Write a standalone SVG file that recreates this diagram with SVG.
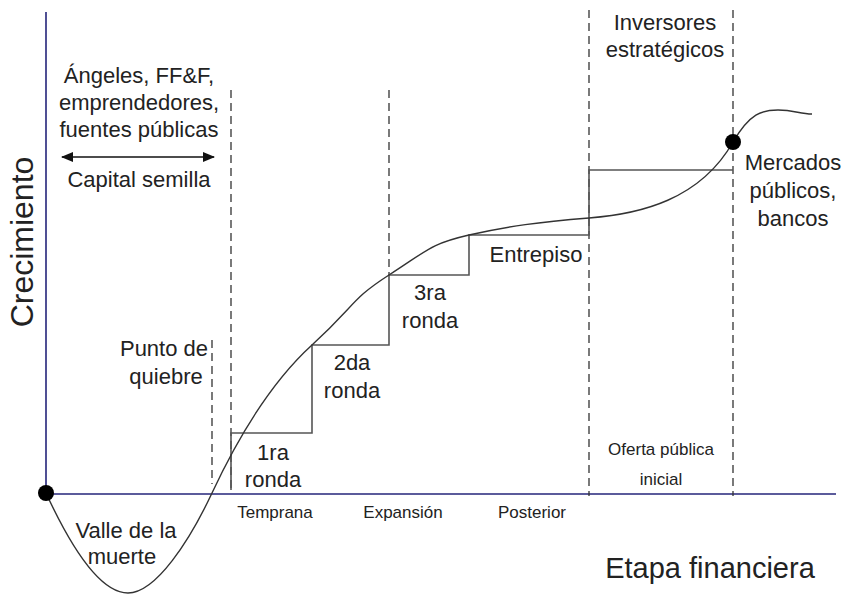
<svg xmlns="http://www.w3.org/2000/svg" width="849" height="594" viewBox="0 0 849 594">
<defs>
<style>
text{font-family:"Liberation Sans",Arial,sans-serif;fill:#222;}
.lbl{font-size:22px;text-anchor:middle;}
.sm{font-size:17px;text-anchor:middle;}
.axis{stroke:#24247a;stroke-width:1.6;fill:none;}
.dash{stroke:#333;stroke-width:1.3;stroke-dasharray:8 5;fill:none;}
.step{stroke:#555;stroke-width:1.6;fill:none;}
.curve{stroke:#333;stroke-width:1.4;fill:none;}
</style>
<marker id="ah" markerWidth="12" markerHeight="10" refX="11" refY="5" orient="auto-start-reverse" markerUnits="userSpaceOnUse">
<path d="M0,0 L12,5 L0,10 Z" fill="#111"/>
</marker>
</defs>
<rect width="849" height="594" fill="#fff"/>
<g id="axes">
<line class="axis" x1="46" y1="12" x2="46" y2="494"/>
<line class="axis" x1="46" y1="494" x2="836" y2="494"/>
<text x="0" y="0" transform="translate(33,242) rotate(-90)" style="font-size:32px;text-anchor:middle">Crecimiento</text>
<text x="710" y="578" style="font-size:29px;text-anchor:middle">Etapa financiera</text>
</g>
<g id="connectors">
<line class="dash" x1="212" y1="340" x2="212" y2="484"/>
<line class="dash" x1="231" y1="90" x2="231" y2="490"/>
<line class="dash" x1="389" y1="90" x2="389" y2="276"/>
<line class="dash" x1="589" y1="10" x2="589" y2="496"/>
<line class="dash" x1="733" y1="10" x2="733" y2="496"/>
<path class="step" d="M231,490 V433 H312 V345 H389 V275 H469 V235 H589 V170 H733"/>
<line x1="62" y1="157" x2="214" y2="157" stroke="#111" stroke-width="1.6" marker-start="url(#ah)" marker-end="url(#ah)"/>
<path class="curve" d="M46,493 C70,545 100,593 128,593 C156,593 190,540 212,493 C234,446 268,385 312,345 S350,300 389,275 S430,244 469,235 S540,222 589,218 C640,214 700,200 733,142 C750,113 762,110 778,110 C794,110 800,114 812,114"/>
</g>
<g id="node-start"><circle cx="46" cy="493" r="8" fill="#000"/></g>
<g id="node-exit"><circle cx="733" cy="142" r="8" fill="#000"/></g>
<g id="node-seed">
<text class="lbl" x="139" y="83">Ángeles, FF&amp;F,</text>
<text class="lbl" x="139" y="110">emprendedores,</text>
<text class="lbl" x="139" y="137">fuentes públicas</text>
<text class="lbl" x="139" y="187">Capital semilla</text>
</g>
<g id="node-breakpoint">
<text class="lbl" x="164" y="356">Punto de</text>
<text class="lbl" x="166" y="384">quiebre</text>
</g>
<g id="node-valley">
<text class="lbl" x="126" y="538">Valle de la</text>
<text class="lbl" x="122" y="564">muerte</text>
</g>
<g id="node-r1">
<text class="lbl" x="273" y="460">1ra</text>
<text class="lbl" x="273" y="487">ronda</text>
</g>
<g id="node-r2">
<text class="lbl" x="352" y="370">2da</text>
<text class="lbl" x="352" y="398">ronda</text>
</g>
<g id="node-r3">
<text class="lbl" x="430" y="300">3ra</text>
<text class="lbl" x="430" y="328">ronda</text>
</g>
<g id="node-mezz"><text class="lbl" x="536" y="262">Entrepiso</text></g>
<g id="node-strategic">
<text class="lbl" x="665" y="30">Inversores</text>
<text class="lbl" x="665" y="57">estratégicos</text>
</g>
<g id="node-markets">
<text class="lbl" x="793" y="170">Mercados</text>
<text class="lbl" x="793" y="198">públicos,</text>
<text class="lbl" x="793" y="226">bancos</text>
</g>
<g id="node-ipo">
<text class="sm" x="661" y="455">Oferta pública</text>
<text class="sm" x="661" y="485">inicial</text>
</g>
<g id="node-stages">
<text class="sm" x="275" y="518">Temprana</text>
<text class="sm" x="403" y="518">Expansión</text>
<text class="sm" x="532" y="518">Posterior</text>
</g>
</svg>
